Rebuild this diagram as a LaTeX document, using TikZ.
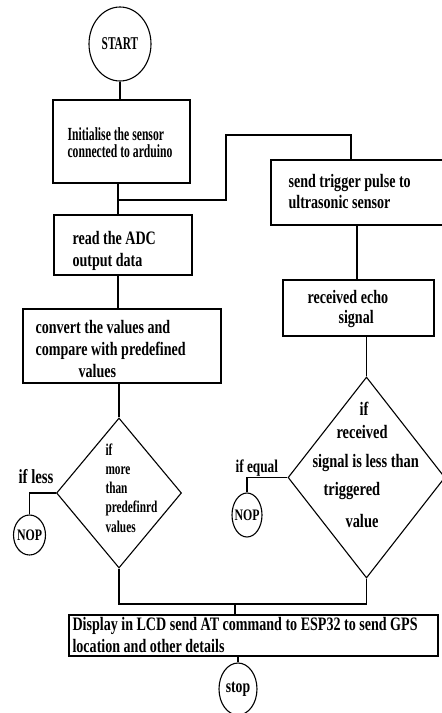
\documentclass[tikz,border=0pt]{standalone}
\usepackage{fontspec}
\setmainfont{Liberation Serif}[FakeStretch=0.74]
\newfontfamily\narrowA{Liberation Serif}[FakeStretch=0.63]
\newfontfamily\narrowB{Liberation Serif}[FakeStretch=0.685]
\newfontfamily\narrowC{Liberation Serif}[FakeStretch=0.76]
\usetikzlibrary{shapes.geometric}
\newcommand{\myfs}[2]{\fontsize{#1}{#2}\selectfont}
\begin{document}
\begin{tikzpicture}[x=1pt,y=-1pt, line width=1.1pt,
  box/.style={draw, rectangle, inner sep=0pt},
  oval/.style={draw, ellipse, inner sep=0pt},
  dia/.style={draw, diamond, inner sep=0pt},
  txt/.style={inner sep=0pt, align=left, anchor=base west}]
\useasboundingbox (0,0) rectangle (442,713);
\fill[white] (0,0) rectangle (442,713);
\clip (0,0) rectangle (442,713);

% process boxes
\node[box, minimum width=137pt, minimum height=83pt] (init) at (121.5,141.5) {};
\node[box, minimum width=179pt, minimum height=65pt] (trig) at (360.5,192.5) {};
\node[box, minimum width=138pt, minimum height=60pt] (adc) at (123,245) {};
\node[box, minimum width=198pt, minimum height=74pt] (conv) at (122,346) {};
\node[box, minimum width=151pt, minimum height=56pt] (echo) at (358.5,308) {};
\node[box, minimum width=369pt, minimum height=41pt] (disp) at (253.5,635.5) {};

% box texts (anchored at the baseline of the last line)
\node[txt, font=\narrowA\bfseries\myfs{18.5}{17}] (initt) at (67,157) {Initialise the sensor\\connected to arduino};
\node[txt, font=\bfseries\myfs{19}{21}] (trigt) at (288,208) {send trigger pulse to\\ultrasonic sensor};
\node[txt, font=\bfseries\myfs{19}{22}] (adct) at (72,266) {read the ADC\\output data};
\node[txt, font=\bfseries\myfs{19}{22}] (convt) at (35,377) {convert the values and\\compare with predefined\\\hspace*{43pt}values};
\node[txt, font=\bfseries\myfs{19}{20}] (echot) at (307,323) {received echo\\\hspace*{31pt}signal};
\node[txt, font=\bfseries\myfs{19}{22}] (dispt) at (72,652) {Display in LCD send AT command to ESP32 to send GPS\\location and other details};

% terminals
\node[oval, minimum width=62pt, minimum height=74pt, font=\narrowA\bfseries\myfs{18}{18}] (start) at (120,44) {\makebox[0pt]{START}};
\node[oval, minimum width=32pt, minimum height=40pt, font=\bfseries\myfs{16}{16}] (nop1) at (29.5,535) {\makebox[0pt]{NOP}};
\node[oval, minimum width=30pt, minimum height=44pt, font=\bfseries\myfs{16}{16}] (nop2) at (247,515) {\makebox[0pt]{NOP}};
\node[oval, minimum width=38pt, minimum height=52pt, font=\bfseries\myfs{18.5}{18}] (stop) at (238,689) {\makebox[0pt]{stop}};

% decisions
\node[dia, minimum width=125pt, minimum height=150pt] (dl) at (119,493) {};
\node[dia, minimum width=157pt, minimum height=201pt] (dr) at (366.5,477.5) {};
\node[txt, font=\narrowB\bfseries\myfs{16.5}{19.25}] (dltxt) at (105,532) {if\\more\\than\\predefinrd\\values};
\node[txt, font=\narrowC\bfseries\myfs{19}{23}] (drtxt) at (312,527) {\hspace*{47pt}if\\\hspace*{24pt}received\\[6pt]signal is less than\\[5pt]\hspace*{11pt}triggered\\[9pt]\hspace*{33pt}value};
\node[txt, font=\bfseries\myfs{20}{20}] (iless) at (18,483) {if less};
\node[txt, font=\bfseries\myfs{18}{20}] (iequal) at (235,472) {if equal};

% connectors
\coordinate (j1) at (118,200);
\coordinate (b1) at (226,135);
\coordinate (t1) at (351,160);
\coordinate (c2) at (357,250);
\coordinate (j2) at (235,604);
\draw (start.south) -- (start.south |- init.north);
\draw (j1 |- init.south) -- (j1 |- adc.north);
\draw (j1) -| (b1) -| (t1 |- trig.north);
\draw (c2 |- trig.south) -- (c2 |- echo.north);
\draw (j1 |- adc.south) -- (j1 |- conv.north);
\draw (dl.north |- conv.south) -- (dl.north);
\draw (dr.north |- echo.south) -- (dr.north);
\draw (dl.west) -| (nop1.north);
\draw (dr.west) -| (nop2.north);
\draw (dl.south) -- (dl.south |- j2) -- (dr.south |- j2) -- (dr.south);
\draw (j2) -- (j2 |- disp.north);
\draw (stop.north |- disp.south) -- (stop.north);
\end{tikzpicture}
\end{document}
